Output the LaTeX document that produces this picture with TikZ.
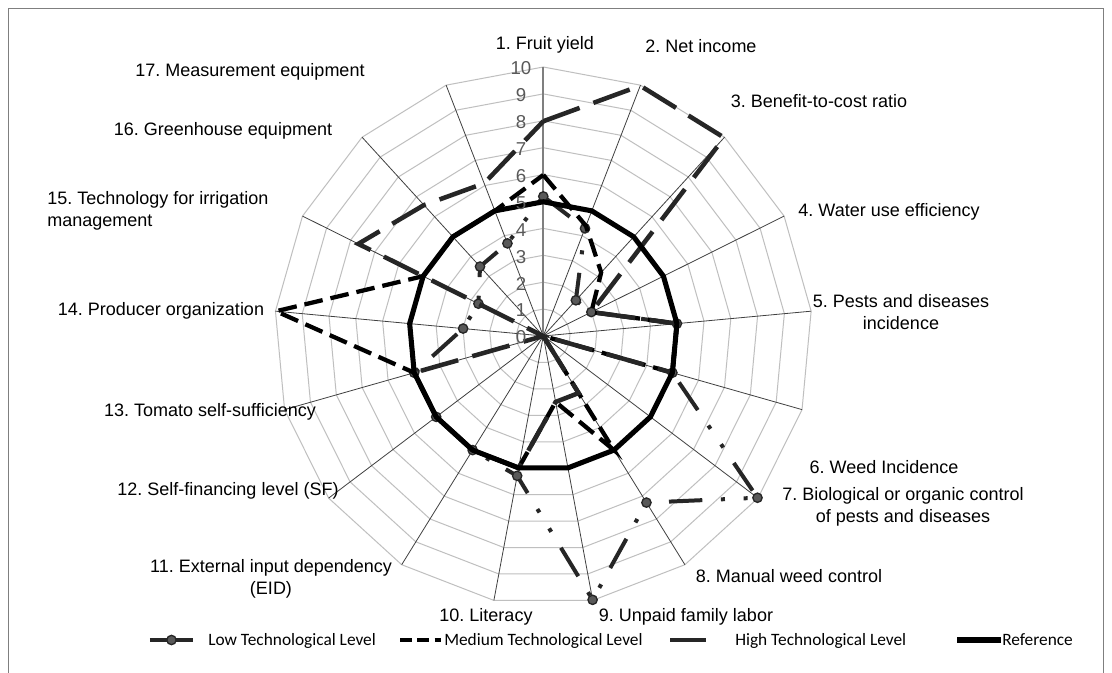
\documentclass[tikz,border=0pt]{standalone}
\usepackage{fontspec}
\setmainfont{Liberation Sans}
\newfontfamily\legendfont{Carlito}
\usetikzlibrary{calc}
\definecolor{ringgray}{HTML}{BFBFBF}
\definecolor{spokegray}{HTML}{404040}
\definecolor{axisgray}{HTML}{7F7F7F}
\definecolor{tickgray}{HTML}{595959}
\definecolor{seriesgray}{HTML}{262626}
\definecolor{markgray}{HTML}{595959}
\definecolor{framegray}{HTML}{7F7F7F}
\tikzset{
  ring/.style={ringgray, line width=0.75pt},
  spoke/.style={spokegray, line width=0.6pt},
  axislabel/.style={font=\fontsize{13.5}{16}\selectfont, inner sep=0pt, align=center},
  ticklabel/.style={font=\fontsize{14}{16}\selectfont, text=tickgray, inner sep=0pt},
  legendlabel/.style={font=\legendfont\fontsize{13}{15}\selectfont, inner sep=0pt, anchor=base west},
  lowline/.style={seriesgray, line width=3pt, dash pattern=on 25pt off 14pt on 3pt off 14pt on 3pt off 14pt},
  lowdot/.style={circle, draw=seriesgray, fill=markgray, line width=1pt, minimum size=7pt, inner sep=0pt},
  medline/.style={black, line width=3.2pt, dash pattern=on 14pt off 6pt},
  highline/.style={seriesgray, line width=3.4pt, dash pattern=on 29pt off 11pt},
  refline/.style={black, line width=3.8pt, line join=miter}
}
\begin{document}
\frenchspacing
\begin{tikzpicture}[x=0.75pt,y=0.75pt]
\useasboundingbox (-543.3,-337) rectangle (568.7,336);
\fill[white] (-543.3,-337) rectangle (568.7,336);
\draw[framegray, line width=0.75pt] (-534.3,327) rectangle (559.7,-345);

\begin{scope}[scale=26.9]
  % grid
  \foreach \r in {1,...,10}
    \draw[ring] (90:\r) \foreach \k in {2,...,17} { -- ({90-(\k-1)*360/17}:\r) } -- cycle;
  \foreach \k in {2,...,17}
    \draw[spoke] (0,0) -- ({90-(\k-1)*360/17}:10);
  \draw[axisgray, line width=1.4pt] (0,0) -- (90:10);

  % series values
  \foreach \v [count=\i] in {5.2,4.3,1.8,2,5,5,10,7.3,10,5.3,5,5,5,3,2.7,3.5,3.7}
    \coordinate (L\i) at ({90-(\i-1)*360/17}:\v);
  \foreach \v [count=\i] in {6,4.4,3.2,2,5,5,0,5,2.5,5,5,5,5,10,5,5,5}
    \coordinate (M\i) at ({90-(\i-1)*360/17}:\v);
  \foreach \v [count=\i] in {8,10,10,2,5,5,0,2.5,2.5,5,5,5,5,0,7.7,6.6,6.1}
    \coordinate (H\i) at ({90-(\i-1)*360/17}:\v);
  \foreach \i in {1,...,17}
    \coordinate (R\i) at ({90-(\i-1)*360/17}:5);

  \draw[lowline] (L1) \foreach \i in {2,...,17} { -- (L\i) } -- cycle;
  \foreach \i in {1,...,17}
    \node[lowdot] at (L\i) {};
  \draw[medline] (M1) \foreach \i in {2,...,17} { -- (M\i) } -- cycle;
  \draw[highline] (H1) \foreach \i in {2,...,17} { -- (H\i) } -- cycle;
  \draw[refline] (R1) \foreach \i in {2,...,17} { -- (R\i) } -- cycle;
\end{scope}

% scale
\foreach \t in {0,...,10}
  \node[ticklabel] (tick\t) at (-22.3,{\t*26.9-1.3}) {\t};

% axis labels
\node[axislabel] (a1) at (1.7,291) {1. Fruit yield};
\node[axislabel] (a2) at (157.7,290) {2. Net income};
\node[axislabel] (a3) at (275.7,235) {3. Benefit-to-cost ratio};
\node[axislabel] (a4) at (345.7,124) {4. Water use efficiency};
\node[axislabel] (a5) at (357.7,24) {5. Pests and diseases\\incidence};
\node[axislabel] (a6) at (340.7,-131) {6. Weed Incidence};
\node[axislabel] (a7) at (359.7,-171) {7. Biological or organic control\\of pests and diseases};
\node[axislabel] (a8) at (245.7,-240) {8. Manual weed control};
\node[axislabel] (a9) at (142.7,-281) {9. Unpaid family labor};
\node[axislabel] (a10) at (-57.3,-281) {10. Literacy};
\node[axislabel] (a11) at (-272.3,-243) {11. External input dependency\\(EID)};
\node[axislabel] (a12) at (-315.3,-155) {12. Self-financing level (SF)};
\node[axislabel] (a13) at (-333.3,-76) {13. Tomato self-sufficiency};
\node[axislabel] (a14) at (-382.3,25) {14. Producer organization};
\node[axislabel, align=left, anchor=west] (a15) at (-496.3,125) {15. Technology for irrigation\\management};
\node[axislabel] (a16) at (-320.3,205) {16. Greenhouse equipment};
\node[axislabel] (a17) at (-293.3,264) {17. Measurement equipment};

% legend
\coordinate (lowA) at (-393.3,-304);
\coordinate (lowB) at (-350.3,-304);
\draw[seriesgray, line width=3pt] (lowA) -- (lowB);
\node[lowdot] (lowmark) at ($(lowA)!0.5!(lowB)$) {};
\node[legendlabel] (lowtext) at (-335.3,-309) {Low Technological Level};
\coordinate (medA) at (-143.3,-304);
\coordinate (medB) at (-102.3,-304);
\draw[black, line width=3.2pt, dash pattern=on 9pt off 4pt] (medA) -- (medB);
\node[legendlabel] (medtext) at (-99.3,-309) {Medium Technological Level};
\coordinate (highA) at (126.7,-304);
\coordinate (highB) at (162.7,-304);
\draw[seriesgray, line width=3.4pt] (highA) -- (highB);
\node[legendlabel] (hightext) at (191.7,-309) {High Technological Level};
\coordinate (refA) at (413.7,-304);
\coordinate (refB) at (457.7,-304);
\draw[black, line width=3.8pt] (refA) -- (refB);
\node[legendlabel] (reftext) at (458.7,-309) {Reference};
\end{tikzpicture}
\end{document}
